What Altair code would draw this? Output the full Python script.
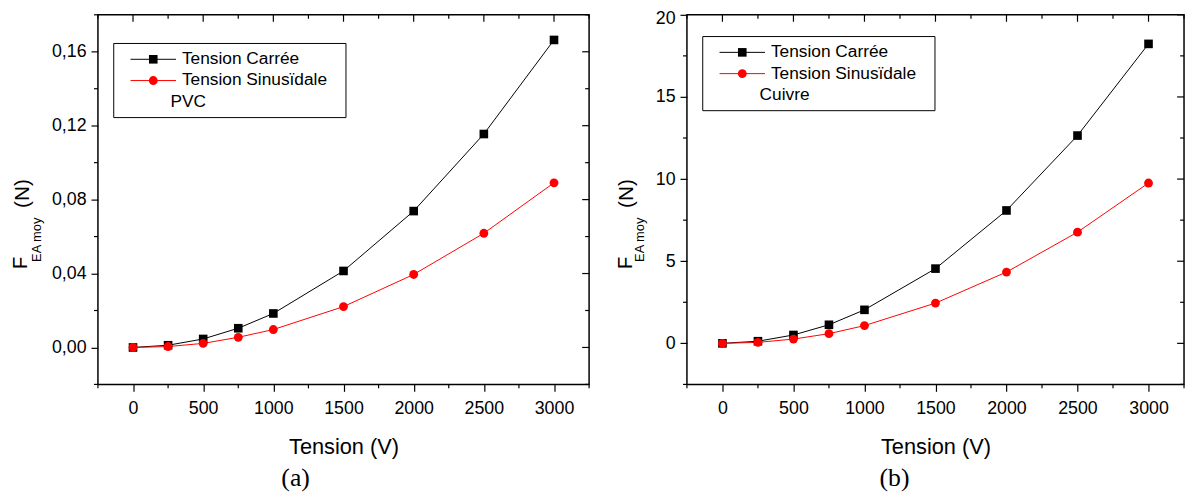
import altair as alt
import pandas as pd

FONT = "Liberation Sans"
SERIF = "Liberation Serif"

tension = [0, 250, 500, 750, 1000, 1500, 2000, 2500, 3000]
pvc_carree = [0.0, 0.0012, 0.0046, 0.0104, 0.0184, 0.0414, 0.0738, 0.1155, 0.1664]
pvc_sinus = [0.0, 0.0005, 0.0022, 0.0055, 0.0097, 0.0221, 0.0395, 0.0618, 0.0891]
cuivre_carree = [0.0, 0.13, 0.51, 1.13, 2.04, 4.55, 8.09, 12.65, 18.23]
cuivre_sinus = [0.0, 0.06, 0.26, 0.59, 1.08, 2.45, 4.34, 6.77, 9.76]

series = ["Tension Carrée", "Tension Sinusïdale"]
series_colors = ["#000000", "#ff0000"]
series_shapes = ["square", "circle"]

x_major = [0, 500, 1000, 1500, 2000, 2500, 3000]
x_minor = [-250, 250, 750, 1250, 1750, 2250, 2750, 3250]
pvc_y_major = [0.0, 0.04, 0.08, 0.12, 0.16]
pvc_y_minor = [-0.02, 0.02, 0.06, 0.10, 0.14, 0.18]
cu_y_major = [0, 5, 10, 15, 20]
cu_y_minor = [-2.5, 2.5, 7.5, 12.5, 17.5]

H = 374
SQ_SIZE = 76
CI_SIZE = 80


def one(t):
    return alt.Chart(pd.DataFrame({"t": [t]}))


def panel(carree, sinus, ydom, ymaj, ymin, label_expr, top_value, material,
          letter, W, box_top, fx, subx, nx, letx):
    df = pd.DataFrame({
        "Tension": tension + tension,
        "F": carree + sinus,
        "Serie": [series[0]] * len(tension) + [series[1]] * len(tension),
    })
    xs = alt.Scale(domain=[-250, 3250], nice=False, zero=False)
    ys = alt.Scale(domain=ydom, nice=False, zero=False)
    xaxis = alt.Axis(values=x_major, format="d", title="Tension (V)", titleFont=FONT,
                     titleFontSize=22, titleFontWeight="normal", titleColor="black",
                     titlePadding=20,
                     labelFont=FONT, labelFontSize=18, labelColor="black", labelPadding=8,
                     tickSize=7, tickWidth=1.2, tickColor="black", domain=False, grid=False,
                     labelFlush=False, labelOverlap=False)
    yaxis = alt.Axis(values=ymaj, title=None, labelExpr=label_expr, labelFont=FONT,
                     labelFontSize=18, labelColor="black", labelPadding=5, tickSize=7,
                     tickWidth=1.2, tickColor="black", domain=False, grid=False,
                     labelOffset={"condition": {"test": "datum.value == %s" % top_value,
                                                "value": 4}, "value": 0},
                     labelFlush=False, labelOverlap=False)
    X = alt.X("Tension:Q", scale=xs, axis=xaxis)
    Y = alt.Y("F:Q", scale=ys, axis=yaxis)

    cscale = alt.Scale(domain=series, range=series_colors)
    base = alt.Chart(df)
    color = alt.Color("Serie:N", scale=cscale, legend=None)
    lines = base.mark_line(strokeWidth=1).encode(x=X, y=Y, color=color)
    squares = base.transform_filter(alt.datum.Serie == series[0]).mark_square(
        size=SQ_SIZE, opacity=1).encode(x=X, y=Y, color=color)
    circles = base.transform_filter(alt.datum.Serie == series[1]).mark_circle(
        size=CI_SIZE, opacity=1).encode(x=X, y=Y, color=color)

    xmaj = alt.Chart(pd.DataFrame({"Tension": x_major}))
    xmin = alt.Chart(pd.DataFrame({"Tension": x_minor}))
    ymj = alt.Chart(pd.DataFrame({"F": ymaj}))
    ymn = alt.Chart(pd.DataFrame({"F": ymin}))
    tk = dict(color="black", strokeWidth=1.2)
    ticks = [
        xmin.mark_rule(**tk).encode(x=X, y=alt.value(H), y2=alt.value(H + 4)),
        xmaj.mark_rule(**tk).encode(x=X, y=alt.value(0), y2=alt.value(7)),
        xmin.mark_rule(**tk).encode(x=X, y=alt.value(0), y2=alt.value(4)),
        ymn.mark_rule(**tk).encode(y=Y, x=alt.value(-4), x2=alt.value(0)),
        ymj.mark_rule(**tk).encode(y=Y, x=alt.value(W - 7), x2=alt.value(W)),
        ymn.mark_rule(**tk).encode(y=Y, x=alt.value(W - 4), x2=alt.value(W)),
    ]

    # legend box: framed rectangle with a line+marker sample per series
    legend = [
        one(material).mark_rect(fill="white", stroke="black", strokeWidth=1).encode(
            x=alt.value(16), x2=alt.value(251),
            y=alt.value(box_top), y2=alt.value(box_top + 75)),
    ]
    for i, name in enumerate(series):
        ry = box_top + 16 + i * 21.5
        legend += [
            one(name).mark_rule(color=series_colors[i], strokeWidth=1).encode(
                x=alt.value(33), x2=alt.value(79), y=alt.value(ry)),
            one(name).mark_point(shape=series_shapes[i], filled=True, opacity=1,
                                 size=SQ_SIZE if i == 0 else CI_SIZE,
                                 color=series_colors[i]).encode(
                x=alt.value(56), y=alt.value(ry)),
            one(name).mark_text(font=FONT, fontSize=17.5, color="black", align="left",
                                baseline="middle").encode(
                text="t:N", x=alt.value(85), y=alt.value(ry)),
        ]
    legend.append(
        one(material).mark_text(font=FONT, fontSize=17.5, color="black", align="left",
                                baseline="middle").encode(
            text="t:N", x=alt.value(73.5), y=alt.value(box_top + 59)))

    def txt(t, x, y, size, font=FONT, align="left", baseline="alphabetic", angle=270):
        return one(t).mark_text(
            font=font, fontSize=size, color="black", align=align, baseline=baseline,
            angle=angle).encode(text="t:N", x=alt.value(x), y=alt.value(y))

    titles = [
        txt("F", fx, 257.5, 21),
        txt("EA moy", subx, 250, 13),
        txt("(N)", nx, 195.5, 21),
        txt(letter, letx, H + 95, 26, font=SERIF, align="center", baseline="middle", angle=0),
    ]
    return alt.layer(lines, squares, circles, *ticks, *legend, *titles).properties(
        width=W, height=H)


pvc_expr = "replace(format(datum.value, '.2f'), '.', ',')"
cu_expr = "format(datum.value, 'd')"

left = panel(pvc_carree, pvc_sinus, [-0.02, 0.18], pvc_y_major, pvc_y_minor, pvc_expr, 0.18,
             "PVC", "(a)", 497, 29, -72, -58, -70, 200)
right = panel(cuivre_carree, cuivre_sinus, [-2.5, 20], cu_y_major, cu_y_minor, cu_expr, 20,
              "Cuivre", "(b)", 503, 22, -56, -43, -55, 210)

chart = alt.hconcat(left, right, spacing=99, bounds="flush").properties(
    padding={"left": 1, "top": -2, "right": 0, "bottom": 0},
    background="white",
).configure_view(stroke="black", strokeWidth=1.5)

chart.save("out.html", embed_options={"renderer": "svg", "actions": False})
